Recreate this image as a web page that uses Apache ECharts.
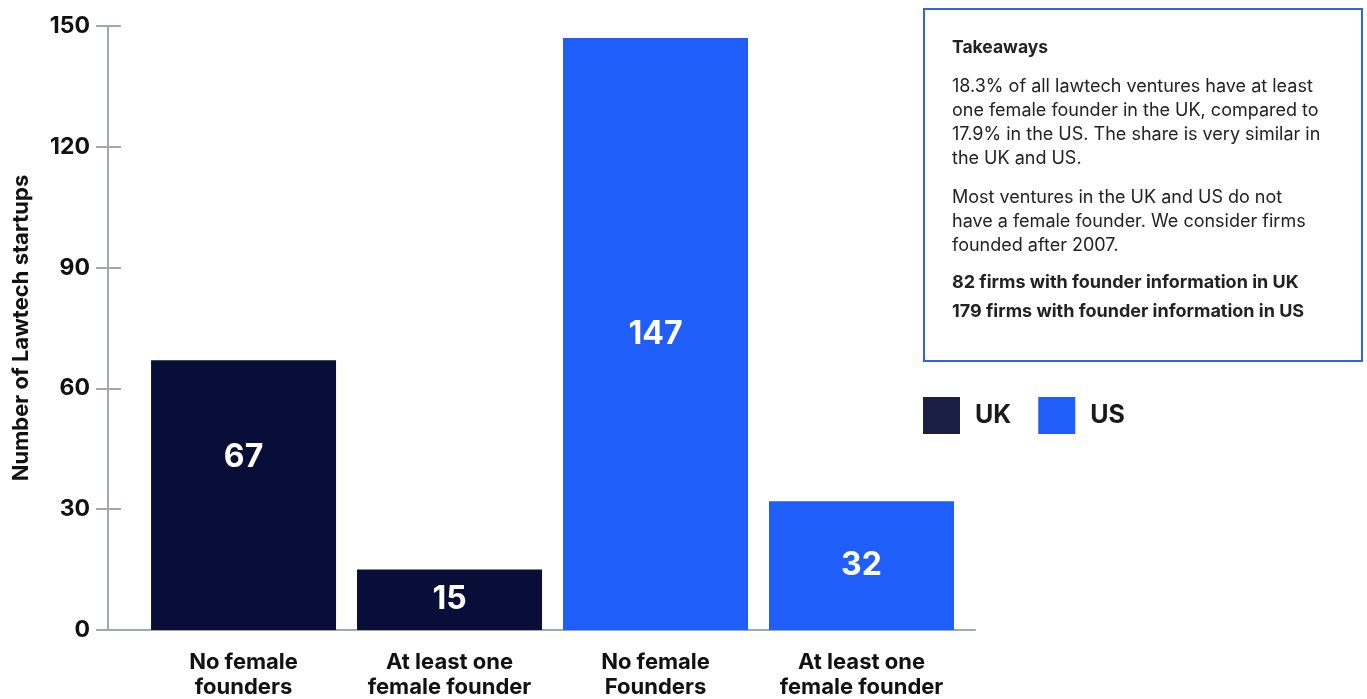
<!DOCTYPE html>
<html>
<head>
<meta charset="utf-8">
<script src="https://cdn.jsdelivr.net/npm/echarts@6/dist/echarts.min.js"></script>
<style>
html,body{margin:0;padding:0;background:#fff;}
#chart{width:1367px;height:699px;}
</style>
</head>
<body>
<div id="chart"></div>
<script>
// ---- data ----
const categories = ['No female\nfounders', 'At least one\nfemale founder', 'No female\nFounders', 'At least one\nfemale founder'];
const ukValues = [67, 15];           // categories 0,1
const usValues = [147, 32];          // categories 2,3
const ukPositions = [0, 1];
const usPositions = [2, 3];
const yTicks = [0, 30, 60, 90, 120, 150];
const takeawaysTitle = 'Takeaways';
const takeawaysPara1 = ['18.3% of all lawtech ventures have at least', 'one female founder in the UK, compared to', '17.9% in the US. The share is very similar in', 'the UK and US.'];
const takeawaysPara2 = ['Most ventures in the UK and US do not', 'have a female founder. We consider firms', 'founded after 2007.'];
const takeawaysBold = ['82 firms with founder information in UK', '179 firms with founder information in US'];

const UK_COLOR = '#080e38';
const US_COLOR = '#205efa';
const AXIS_COLOR = '#a3a6b4';
const FONT = 'Inter, "Noto Sans", sans-serif';

const chart = echarts.init(document.getElementById('chart'));

const labelStyle = {show: true, position: 'inside', color: '#fff', fontSize: 32, fontWeight: 'bold', fontFamily: FONT};

const ukData = ukValues.map((v, i) => {
  const d = {value: [ukPositions[i], v]};
  if (i === 0) d.label = {offset: [0, -38]};
  return d;
});
const usData = usValues.map((v, i) => ({value: [usPositions[i], v]}));

// Takeaways box graphics (text placed by vertical centre)
const textCol = '#222';
const g = [];
g.push({type: 'rect', left: 923, top: 8, shape: {width: 438, height: 352},
  style: {fill: '#fff', stroke: '#2f62e6', lineWidth: 2}});
function addText(t, cy, size, bold) {
  g.push({type: 'text', x: 952, y: cy, style: {text: t, font: (bold ? 'bold ' : '') + size + 'px ' + FONT,
    fill: textCol, verticalAlign: 'middle', align: 'left'}});
}
addText(takeawaysTitle, 48, 17.5, true);
const p1y = [87, 111, 135, 159];
const p2y = [198, 222, 246];
const by = [283, 312];
takeawaysPara1.forEach((t, i) => addText(t, p1y[i], 18, false));
takeawaysPara2.forEach((t, i) => addText(t, p2y[i], 18, false));
takeawaysBold.forEach((t, i) => addText(t, by[i], 18, true));

const option = {
  animation: false,
  backgroundColor: '#fff',
  grid: {left: 108, right: 392, top: 26, bottom: 69, outerBoundsMode: 'none', containLabel: false},
  legend: {
    left: 923, top: 397, padding: 0,
    icon: 'rect', itemWidth: 37, itemHeight: 37, itemGap: 27,
    textStyle: {fontSize: 25, fontWeight: 'bold', color: '#1a1a1a', fontFamily: FONT, padding: [0, 0, 0, 10]},
    data: [{name: 'UK', itemStyle: {color: '#1c1f44'}}, {name: 'US', itemStyle: {color: US_COLOR}}]
  },
  xAxis: {
    type: 'value', min: -0.658, max: 3.551,
    splitLine: {show: false},
    axisLine: {show: true, onZero: false, lineStyle: {color: AXIS_COLOR, width: 2}},
    axisTick: {show: false},
    axisLabel: {
      customValues: [0, 1, 2, 3],
      formatter: v => categories[Math.round(v)],
      color: '#111', fontSize: 22, fontWeight: 'bold', fontFamily: FONT,
      lineHeight: 25, margin: 20
    }
  },
  yAxis: [{
    type: 'value', min: 0, max: 150, interval: 30,
    name: 'Number of Lawtech startups', nameLocation: 'middle', nameGap: 76,
    nameTextStyle: {fontSize: 22, fontWeight: 'bold', color: '#111', fontFamily: FONT},
    splitLine: {show: false},
    axisLine: {show: true, onZero: false, lineStyle: {color: AXIS_COLOR, width: 2}},
    axisTick: {show: true, length: 12, lineStyle: {color: AXIS_COLOR, width: 2}},
    axisLabel: {color: '#111', fontSize: 23, fontWeight: 'bold', fontFamily: FONT, margin: 18,
      formatter: v => yTicks.includes(v) ? String(v) : ''}
  }, {
    type: 'value', min: 0, max: 150, interval: 30, position: 'left', offset: 0,
    splitLine: {show: false},
    axisLine: {show: false, onZero: false},
    axisTick: {show: true, inside: true, length: 13, lineStyle: {color: AXIS_COLOR, width: 2}},
    axisLabel: {show: false}
  }],
  series: [{
    name: 'UK', type: 'bar', stack: 'all', barWidth: 185,
    itemStyle: {color: UK_COLOR}, label: labelStyle, data: ukData
  }, {
    name: 'US', type: 'bar', stack: 'all', barWidth: 185,
    itemStyle: {color: US_COLOR}, label: labelStyle, data: usData
  }],
  graphic: g
};
chart.setOption(option);
</script>
</body>
</html>
